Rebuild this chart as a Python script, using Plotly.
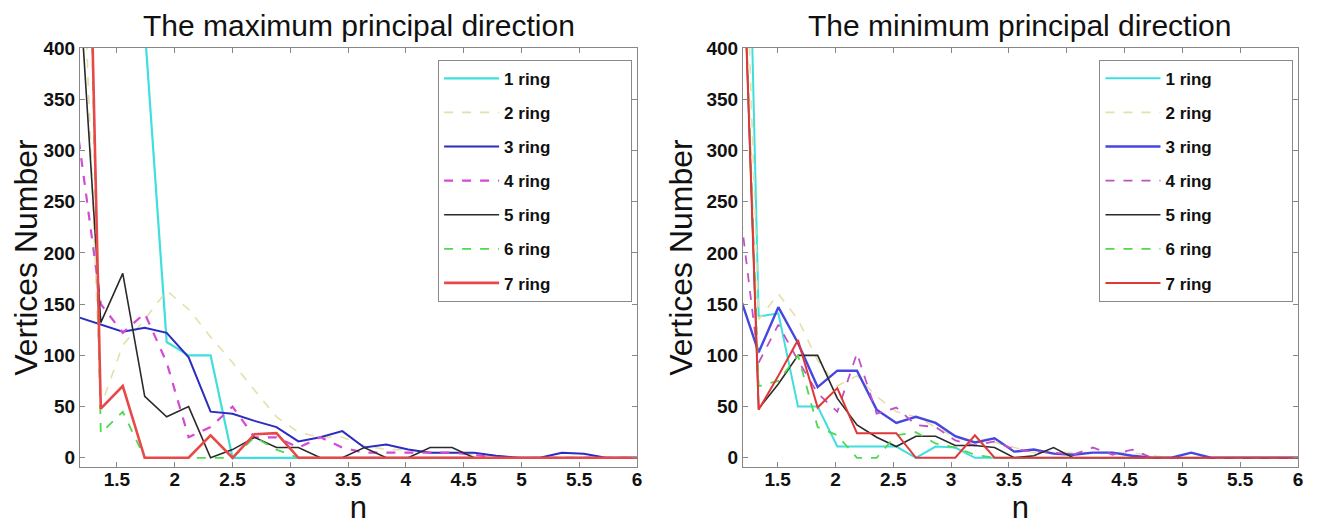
import plotly.graph_objects as go

# ---------------- data ----------------
names = ["1 ring", "2 ring", "3 ring", "4 ring", "5 ring", "6 ring", "7 ring"]

x_left = [1.17, 1.36, 1.55, 1.74, 1.93, 2.12, 2.31, 2.50, 2.69, 2.88, 3.07, 3.26, 3.45, 3.64,
          3.83, 4.02, 4.21, 4.40, 4.59, 4.78, 4.97, 5.16, 5.35, 5.54, 5.73, 5.92, 6.11]

ring1_L = [2500, 1500, 900, 420, 113, 100, 100, 0, 0, 0, 0, 0, 0, 0, 0, 0, 0, 0, 0, 0, 0, 0, 0, 0, 0, 0, 0]
ring2_L = [600, 50, 110, 135, 163, 145, 118, 93, 66, 40, 25, 20, 20, 12, 8, 8, 5, 5, 3, 2, 0, 0, 0, 0, 0, 0, 0]
ring3_L = [137, 130, 123, 127, 122, 98, 45, 43, 36, 30, 16, 20, 26, 10, 13, 8, 5, 5, 5, 2, 0, 0, 5, 4, 0, 0, 0]
ring4_L = [310, 150, 122, 141, 93, 20, 30, 50, 20, 20, 10, 20, 10, 5, 5, 5, 5, 5, 3, 0, 0, 0, 0, 0, 0, 0, 0]
ring5_L = [470, 132, 180, 60, 40, 50, 0, 8, 20, 10, 10, 0, 0, 10, 0, 0, 10, 10, 0, 0, 0, 0, 0, 0, 0, 0, 0]
ring6_L = [1000, 24, 45, 0, 0, 0, 0, 0, 20, 8, 0, 0, 0, 0, 0, 0, 0, 0, 0, 0, 0, 0, 0, 0, 0, 0, 0]
ring7_L = [1000, 48, 70, 0, 0, 0, 22, 0, 23, 24, 0, 0, 0, 0, 0, 0, 0, 0, 0, 0, 0, 0, 0, 0, 0, 0, 0]

x_right = [1.166, 1.336, 1.506, 1.676, 1.846, 2.016, 2.186, 2.356, 2.526, 2.696, 2.866, 3.036,
           3.206, 3.376, 3.546, 3.716, 3.886, 4.056, 4.226, 4.396, 4.566, 4.736, 4.906, 5.076,
           5.246, 5.416, 5.586, 5.756, 5.926, 6.096]

ring1_R = [950, 138, 141, 50, 50, 11, 11, 11, 11, 0, 11, 10, 0, 0, 0, 0, 0, 0, 0, 0, 0, 0, 0, 0, 0, 0, 0, 0, 0, 0]
ring2_R = [700, 135, 160, 135, 95, 70, 80, 60, 45, 40, 30, 20, 15, 15, 10, 5, 5, 5, 5, 5, 5, 2, 0, 0, 0, 0, 0, 0, 0, 0]
ring3_R = [160, 103, 147, 112, 69, 85, 85, 47, 34, 40, 34, 21, 15, 19, 6, 8, 4, 3, 5, 5, 2, 0, 0, 5, 0, 0, 0, 0, 0, 0]
ring4_R = [250, 93, 130, 95, 63, 45, 102, 43, 49, 32, 30, 17, 12, 16, 8, 6, 5, 3, 10, 3, 8, 0, 0, 0, 0, 0, 0, 0, 0, 0]
ring5_R = [620, 48, 72, 100, 100, 58, 32, 20, 11, 21, 21, 12, 12, 10, 0, 2, 10, 0, 0, 0, 0, 0, 0, 0, 0, 0, 0, 0, 0, 0]
ring6_R = [620, 70, 75, 100, 30, 22, 0, 0, 22, 25, 14, 10, 3, 0, 0, 0, 0, 0, 0, 0, 0, 0, 0, 0, 0, 0, 0, 0, 0, 0]
ring7_R = [620, 47, 80, 115, 49, 68, 24, 24, 24, 0, 0, 0, 22, 0, 0, 0, 0, 0, 0, 0, 0, 0, 0, 0, 0, 0, 0, 0, 0, 0]

y_ticks = [0, 50, 100, 150, 200, 250, 300, 350, 400]
x_ticks = [1.5, 2, 2.5, 3, 3.5, 4, 4.5, 5, 5.5, 6]
titles = ["The maximum principal direction", "The minimum principal direction"]

# ---------------- styles ----------------
colors_L = ["#40dede", "#e4e0a8", "#2c2cc0", "#d648d6", "#2a2a2a", "#50d850", "#e84848"]
colors_R = ["#40dede", "#e4e0a8", "#4646e0", "#c050c8", "#2a2a2a", "#50d850", "#e03838"]
dashes = ["solid", "dash", "solid", "dash", "solid", "dash", "solid"]
widths_L = [2.2, 1.6, 2.0, 2.2, 1.6, 1.8, 2.6]
widths_R = [2.0, 1.6, 2.4, 1.8, 1.6, 1.8, 2.0]

FONT = "Arial, Liberation Sans, sans-serif"
PAD = "\u00a0" * 16

fig = go.Figure()

left_series = [ring1_L, ring2_L, ring3_L, ring4_L, ring5_L, ring6_L, ring7_L]
right_series = [ring1_R, ring2_R, ring3_R, ring4_R, ring5_R, ring6_R, ring7_R]

for i, (nm, ys) in enumerate(zip(names, left_series)):
    fig.add_trace(go.Scatter(
        x=x_left, y=ys, mode="lines", name=nm + PAD,
        line=dict(color=colors_L[i], width=widths_L[i], dash=dashes[i]),
        xaxis="x", yaxis="y", legend="legend", legendgroup="L%d" % i,
    ))

for i, (nm, ys) in enumerate(zip(names, right_series)):
    fig.add_trace(go.Scatter(
        x=x_right, y=ys, mode="lines", name=nm + PAD,
        line=dict(color=colors_R[i], width=widths_R[i], dash=dashes[i]),
        xaxis="x2", yaxis="y2", legend="legend2", legendgroup="R%d" % i,
    ))

axis_common = dict(
    showgrid=False, zeroline=False, showline=True, linecolor="#888888", linewidth=1,
    mirror="ticks", ticks="inside", ticklen=5, tickcolor="#888888", automargin=False,
    tickfont=dict(family=FONT, size=19, color="#111111", weight="bold"),
)

xa = dict(axis_common, range=[1.18, 6.0], tickvals=x_ticks, ticklabelstandoff=-5,
          ticktext=[("%g" % v) for v in x_ticks],
          title=dict(text="n", font=dict(family=FONT, size=31, color="#111111"), standoff=4))
ya = dict(axis_common, range=[-9, 400], tickvals=y_ticks,
          ticktext=[str(v) for v in y_ticks],
          title=dict(text="Vertices Number", font=dict(family=FONT, size=32, color="#111111"), standoff=4))

leg_common = dict(
    bgcolor="white", bordercolor="#8a8a8a", borderwidth=1,
    font=dict(family=FONT, size=17, color="#111111", weight="bold"),
    itemwidth=55, tracegroupgap=9, xanchor="left", yanchor="top",
    itemclick=False, itemdoubleclick=False,
)

# the page body adds an 8px offset; size the figure so the plot areas land in place
fig.update_layout(
    width=1314, height=517,
    margin=dict(l=72, r=24, t=40, b=58),
    paper_bgcolor="white", plot_bgcolor="white",
    showlegend=True,
    xaxis=dict(xa, domain=[0, 0.4573], anchor="y"),
    yaxis=dict(ya, domain=[0, 1], anchor="x"),
    xaxis2=dict(xa, domain=[0.5443, 1], anchor="y2", range=[1.2, 6.0]),
    yaxis2=dict(ya, domain=[0, 1], anchor="x2"),
    legend=dict(leg_common, x=0.294, y=0.972),
    legend2=dict(leg_common, x=0.837, y=0.972),
    annotations=[
        dict(text=titles[0], xref="paper", yref="paper", x=0.2287, y=1.0, yshift=4,
             xanchor="center", yanchor="bottom", showarrow=False,
             font=dict(family=FONT, size=30, color="#111111")),
        dict(text=titles[1], xref="paper", yref="paper", x=0.772, y=1.0, yshift=4,
             xanchor="center", yanchor="bottom", showarrow=False,
             font=dict(family=FONT, size=30, color="#111111")),
    ],
)

fig.write_html("out.html")
